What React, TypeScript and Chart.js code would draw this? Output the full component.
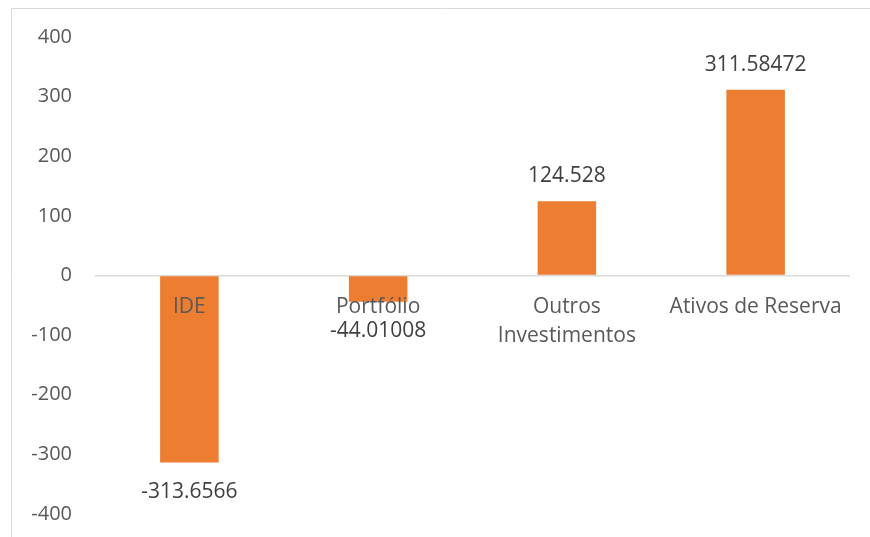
import React, { useEffect, useRef } from "react";
import { Chart, registerables } from "chart.js";

Chart.register(...registerables);

const categories: (string | string[])[] = ["IDE", "Portfólio", ["Outros", "Investimentos"], "Ativos de Reserva"];
const values: number[] = [-313.6566, -44.01008, 124.528, 311.58472];
const valueLabels: string[] = ["-313.6566", "-44.01008", "124.528", "311.58472"];
const yTicks: number[] = [-400, -300, -200, -100, 0, 100, 200, 300, 400];

const FONT = "'Open Sans', sans-serif";

const borderPlugin = {
  id: "frame",
  beforeDraw(chart: any) {
    const { ctx, width, height } = chart;
    ctx.save();
    ctx.strokeStyle = "#d9d9d9";
    ctx.lineWidth = 1;
    ctx.beginPath();
    ctx.moveTo(11.5, height);
    ctx.lineTo(11.5, 8.5);
    ctx.lineTo(width, 8.5);
    ctx.stroke();
    ctx.restore();
  },
};

const labelsPlugin = {
  id: "labelsAtZero",
  afterDatasetsDraw(chart: any) {
    const { ctx } = chart;
    const x = chart.scales.x;
    const y = chart.scales.y;
    const zeroY = y.getPixelForValue(0);
    ctx.save();
    ctx.textAlign = "center";
    ctx.textBaseline = "middle";
    ctx.font = `21px ${FONT}`;
    ctx.fillStyle = "#595959";
    categories.forEach((c, i) => {
      const cx = x.getPixelForValue(i);
      const lines = Array.isArray(c) ? c : [c];
      lines.forEach((ln, j) => ctx.fillText(ln, cx, zeroY + 32 + j * 29));
    });
    ctx.fillStyle = "#404040";
    const meta = chart.getDatasetMeta(0);
    meta.data.forEach((bar: any, i: number) => {
      const v = values[i];
      const ly = v >= 0 ? bar.y - 25 : bar.y + 29;
      ctx.fillText(valueLabels[i], bar.x, ly);
    });
    ctx.restore();
  },
};

export default function App() {
  const ref = useRef<HTMLCanvasElement>(null);
  useEffect(() => {
    if (!ref.current) return;
    const chart = new Chart(ref.current, {
      type: "bar",
      data: {
        labels: categories.map((c) => (Array.isArray(c) ? c.join(" ") : c)),
        datasets: [
          {
            data: values,
            backgroundColor: "#ED7D31",
            borderWidth: 0,
            barPercentage: 0.62,
            categoryPercentage: 0.5,
          },
        ],
      },
      options: {
        animation: false,
        responsive: false,
        devicePixelRatio: 1,
        layout: { padding: { top: 37, bottom: 23, left: 0, right: 20 } },
        plugins: { legend: { display: false }, tooltip: { enabled: false } },
        scales: {
          x: { display: false },
          y: {
            min: -400,
            max: 400,
            afterFit: (s: any) => {
              s.width = 95;
              s.paddingTop = 0;
              s.paddingBottom = 0;
            },
            afterBuildTicks: (s: any) => {
              s.ticks = yTicks.map((v) => ({ value: v }));
            },
            border: { display: false },
            grid: {
              drawTicks: false,
              lineWidth: 1.5,
              color: (ctx: any) => (ctx.tick && ctx.tick.value === 0 ? "#d9d9d9" : "rgba(0,0,0,0)"),
            },
            ticks: {
              padding: 23,
              color: "#595959",
              font: { family: FONT, size: 20 },
            },
          },
        },
      },
      plugins: [borderPlugin, labelsPlugin],
    });
    return () => chart.destroy();
  }, []);
  return (
    <div style={{ position: "absolute", left: 0, top: 0, width: 870, height: 537, background: "#fff" }}>
      <canvas ref={ref} width={870} height={537} />
    </div>
  );
}
